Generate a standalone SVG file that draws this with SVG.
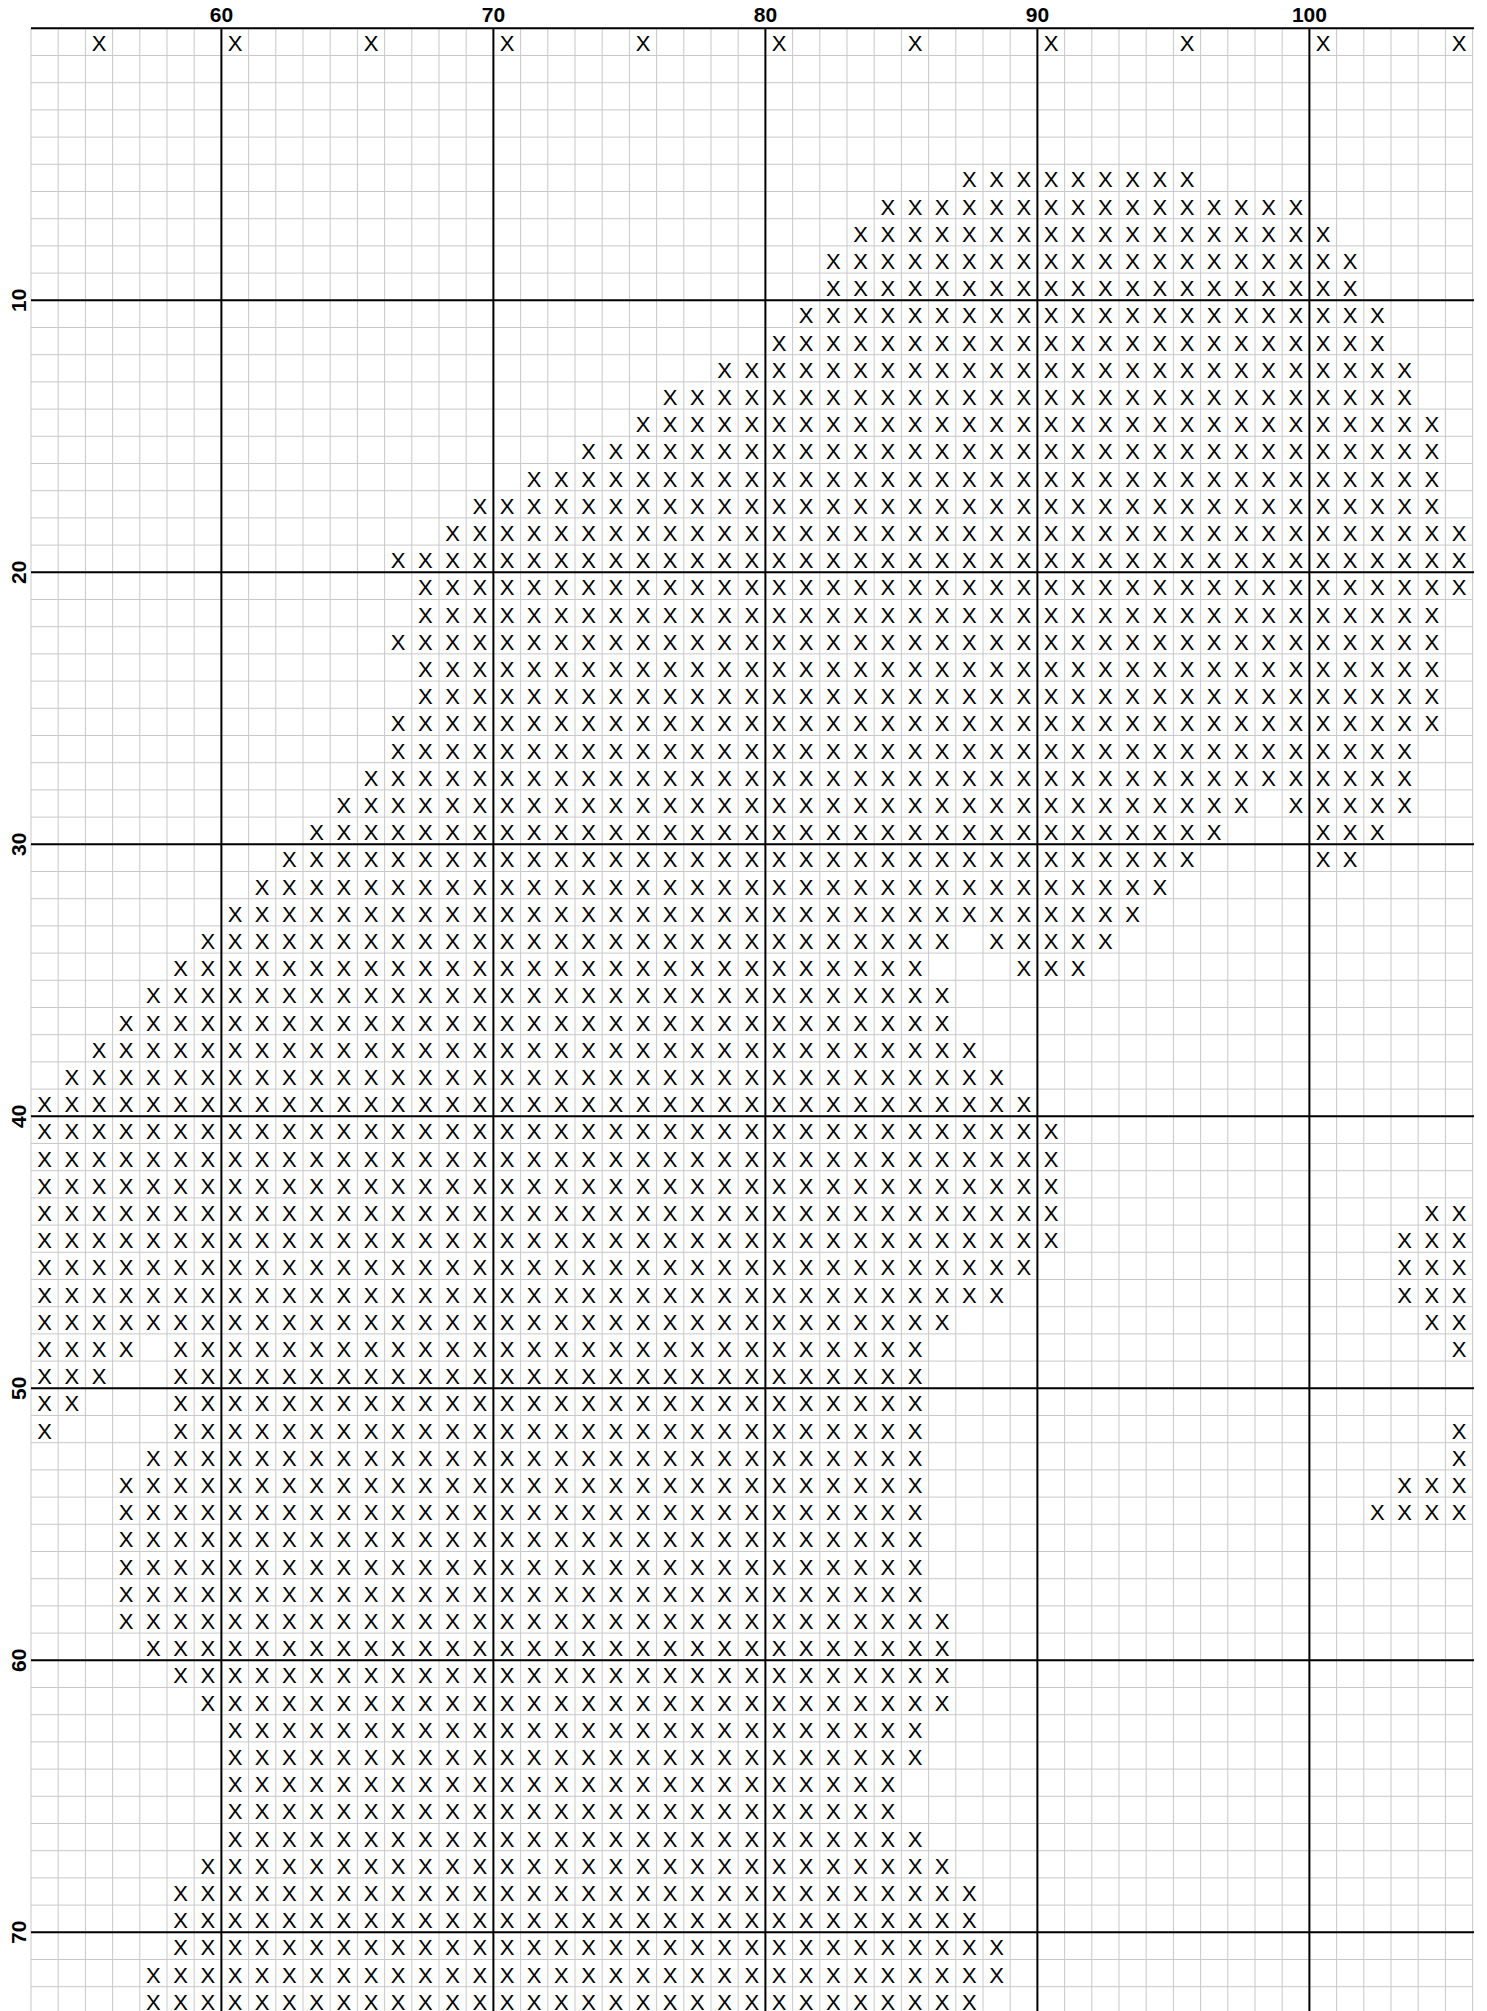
<svg xmlns="http://www.w3.org/2000/svg" width="1487" height="2011" viewBox="0 0 1487 2011">
<style>
.g{stroke:#c8c8c8;stroke-width:1;fill:none}
.t{stroke:#000;stroke-width:2;fill:none}
.lab{font-family:"Liberation Sans",Arial,sans-serif;font-weight:bold;font-size:21px;fill:#000;text-anchor:middle}
.x{font-family:"Liberation Sans",Arial,sans-serif;font-size:22px;fill:#000;text-anchor:middle}
</style>
<rect width="1487" height="2011" fill="#fff"/>
<g id="grid">
<path class="g" d="M31 28.3V2011M58.2 28.3V2011M85.4 28.3V2011M112.6 28.3V2011M139.8 28.3V2011M167 28.3V2011M194.2 28.3V2011M248.6 28.3V2011M275.8 28.3V2011M303 28.3V2011M330.2 28.3V2011M357.4 28.3V2011M384.6 28.3V2011M411.8 28.3V2011M439 28.3V2011M466.2 28.3V2011M520.6 28.3V2011M547.8 28.3V2011M575 28.3V2011M602.2 28.3V2011M629.4 28.3V2011M656.6 28.3V2011M683.8 28.3V2011M711 28.3V2011M738.2 28.3V2011M792.6 28.3V2011M819.8 28.3V2011M847 28.3V2011M874.2 28.3V2011M901.4 28.3V2011M928.6 28.3V2011M955.8 28.3V2011M983 28.3V2011M1010.2 28.3V2011M1064.6 28.3V2011M1091.8 28.3V2011M1119 28.3V2011M1146.2 28.3V2011M1173.4 28.3V2011M1200.6 28.3V2011M1227.8 28.3V2011M1255 28.3V2011M1282.2 28.3V2011M1336.6 28.3V2011M1363.8 28.3V2011M1391 28.3V2011M1418.2 28.3V2011M1445.4 28.3V2011M1472.6 28.3V2011"/>
<path class="g" d="M31 55.5H1472.6M31 82.7H1472.6M31 109.9H1472.6M31 137.1H1472.6M31 164.3H1472.6M31 191.5H1472.6M31 218.7H1472.6M31 245.9H1472.6M31 273.1H1472.6M31 327.5H1472.6M31 354.7H1472.6M31 381.9H1472.6M31 409.1H1472.6M31 436.3H1472.6M31 463.5H1472.6M31 490.7H1472.6M31 517.9H1472.6M31 545.1H1472.6M31 599.5H1472.6M31 626.7H1472.6M31 653.9H1472.6M31 681.1H1472.6M31 708.3H1472.6M31 735.5H1472.6M31 762.7H1472.6M31 789.9H1472.6M31 817.1H1472.6M31 871.5H1472.6M31 898.7H1472.6M31 925.9H1472.6M31 953.1H1472.6M31 980.3H1472.6M31 1007.5H1472.6M31 1034.7H1472.6M31 1061.9H1472.6M31 1089.1H1472.6M31 1143.5H1472.6M31 1170.7H1472.6M31 1197.9H1472.6M31 1225.1H1472.6M31 1252.3H1472.6M31 1279.5H1472.6M31 1306.7H1472.6M31 1333.9H1472.6M31 1361.1H1472.6M31 1415.5H1472.6M31 1442.7H1472.6M31 1469.9H1472.6M31 1497.1H1472.6M31 1524.3H1472.6M31 1551.5H1472.6M31 1578.7H1472.6M31 1605.9H1472.6M31 1633.1H1472.6M31 1687.5H1472.6M31 1714.7H1472.6M31 1741.9H1472.6M31 1769.1H1472.6M31 1796.3H1472.6M31 1823.5H1472.6M31 1850.7H1472.6M31 1877.9H1472.6M31 1905.1H1472.6M31 1959.5H1472.6M31 1986.7H1472.6"/>
<path class="t" d="M221.4 28.3V2011M493.4 28.3V2011M765.4 28.3V2011M1037.4 28.3V2011M1309.4 28.3V2011M31 28.3H1474M31 300.3H1474M31 572.3H1474M31 844.3H1474M31 1116.3H1474M31 1388.3H1474M31 1660.3H1474M31 1932.3H1474"/>
</g>
<g id="labels">
<text class="lab" x="221.4" y="22.3">60</text>
<text class="lab" x="493.4" y="22.3">70</text>
<text class="lab" x="765.4" y="22.3">80</text>
<text class="lab" x="1037.4" y="22.3">90</text>
<text class="lab" x="1309.4" y="22.3">100</text>
<text class="lab" transform="translate(25.5 300.3) rotate(-90)">10</text>
<text class="lab" transform="translate(25.5 572.3) rotate(-90)">20</text>
<text class="lab" transform="translate(25.5 844.3) rotate(-90)">30</text>
<text class="lab" transform="translate(25.5 1116.3) rotate(-90)">40</text>
<text class="lab" transform="translate(25.5 1388.3) rotate(-90)">50</text>
<text class="lab" transform="translate(25.5 1660.3) rotate(-90)">60</text>
<text class="lab" transform="translate(25.5 1932.3) rotate(-90)">70</text>
</g>
<g id="stitches">
<text class="x" y="51.3" x="99 235 371 507 643 779 915 1051 1187 1323 1459">XXXXXXXXXXX</text>
<text class="x" y="187.3" x="969.4 996.6 1023.8 1051 1078.2 1105.4 1132.6 1159.8 1187">XXXXXXXXX</text>
<text class="x" y="214.5" x="887.8 915 942.2 969.4 996.6 1023.8 1051 1078.2 1105.4 1132.6 1159.8 1187 1214.2 1241.4 1268.6 1295.8">XXXXXXXXXXXXXXXX</text>
<text class="x" y="241.7" x="860.6 887.8 915 942.2 969.4 996.6 1023.8 1051 1078.2 1105.4 1132.6 1159.8 1187 1214.2 1241.4 1268.6 1295.8 1323">XXXXXXXXXXXXXXXXXX</text>
<text class="x" y="268.9" x="833.4 860.6 887.8 915 942.2 969.4 996.6 1023.8 1051 1078.2 1105.4 1132.6 1159.8 1187 1214.2 1241.4 1268.6 1295.8 1323 1350.2">XXXXXXXXXXXXXXXXXXXX</text>
<text class="x" y="296.1" x="833.4 860.6 887.8 915 942.2 969.4 996.6 1023.8 1051 1078.2 1105.4 1132.6 1159.8 1187 1214.2 1241.4 1268.6 1295.8 1323 1350.2">XXXXXXXXXXXXXXXXXXXX</text>
<text class="x" y="323.3" x="806.2 833.4 860.6 887.8 915 942.2 969.4 996.6 1023.8 1051 1078.2 1105.4 1132.6 1159.8 1187 1214.2 1241.4 1268.6 1295.8 1323 1350.2 1377.4">XXXXXXXXXXXXXXXXXXXXXX</text>
<text class="x" y="350.5" x="779 806.2 833.4 860.6 887.8 915 942.2 969.4 996.6 1023.8 1051 1078.2 1105.4 1132.6 1159.8 1187 1214.2 1241.4 1268.6 1295.8 1323 1350.2 1377.4">XXXXXXXXXXXXXXXXXXXXXXX</text>
<text class="x" y="377.7" x="724.6 751.8 779 806.2 833.4 860.6 887.8 915 942.2 969.4 996.6 1023.8 1051 1078.2 1105.4 1132.6 1159.8 1187 1214.2 1241.4 1268.6 1295.8 1323 1350.2 1377.4 1404.6">XXXXXXXXXXXXXXXXXXXXXXXXXX</text>
<text class="x" y="404.9" x="670.2 697.4 724.6 751.8 779 806.2 833.4 860.6 887.8 915 942.2 969.4 996.6 1023.8 1051 1078.2 1105.4 1132.6 1159.8 1187 1214.2 1241.4 1268.6 1295.8 1323 1350.2 1377.4 1404.6">XXXXXXXXXXXXXXXXXXXXXXXXXXXX</text>
<text class="x" y="432.1" x="643 670.2 697.4 724.6 751.8 779 806.2 833.4 860.6 887.8 915 942.2 969.4 996.6 1023.8 1051 1078.2 1105.4 1132.6 1159.8 1187 1214.2 1241.4 1268.6 1295.8 1323 1350.2 1377.4 1404.6 1431.8">XXXXXXXXXXXXXXXXXXXXXXXXXXXXXX</text>
<text class="x" y="459.3" x="588.6 615.8 643 670.2 697.4 724.6 751.8 779 806.2 833.4 860.6 887.8 915 942.2 969.4 996.6 1023.8 1051 1078.2 1105.4 1132.6 1159.8 1187 1214.2 1241.4 1268.6 1295.8 1323 1350.2 1377.4 1404.6 1431.8">XXXXXXXXXXXXXXXXXXXXXXXXXXXXXXXX</text>
<text class="x" y="486.5" x="534.2 561.4 588.6 615.8 643 670.2 697.4 724.6 751.8 779 806.2 833.4 860.6 887.8 915 942.2 969.4 996.6 1023.8 1051 1078.2 1105.4 1132.6 1159.8 1187 1214.2 1241.4 1268.6 1295.8 1323 1350.2 1377.4 1404.6 1431.8">XXXXXXXXXXXXXXXXXXXXXXXXXXXXXXXXXX</text>
<text class="x" y="513.7" x="479.8 507 534.2 561.4 588.6 615.8 643 670.2 697.4 724.6 751.8 779 806.2 833.4 860.6 887.8 915 942.2 969.4 996.6 1023.8 1051 1078.2 1105.4 1132.6 1159.8 1187 1214.2 1241.4 1268.6 1295.8 1323 1350.2 1377.4 1404.6 1431.8">XXXXXXXXXXXXXXXXXXXXXXXXXXXXXXXXXXXX</text>
<text class="x" y="540.9" x="452.6 479.8 507 534.2 561.4 588.6 615.8 643 670.2 697.4 724.6 751.8 779 806.2 833.4 860.6 887.8 915 942.2 969.4 996.6 1023.8 1051 1078.2 1105.4 1132.6 1159.8 1187 1214.2 1241.4 1268.6 1295.8 1323 1350.2 1377.4 1404.6 1431.8 1459">XXXXXXXXXXXXXXXXXXXXXXXXXXXXXXXXXXXXXX</text>
<text class="x" y="568.1" x="398.2 425.4 452.6 479.8 507 534.2 561.4 588.6 615.8 643 670.2 697.4 724.6 751.8 779 806.2 833.4 860.6 887.8 915 942.2 969.4 996.6 1023.8 1051 1078.2 1105.4 1132.6 1159.8 1187 1214.2 1241.4 1268.6 1295.8 1323 1350.2 1377.4 1404.6 1431.8 1459">XXXXXXXXXXXXXXXXXXXXXXXXXXXXXXXXXXXXXXXX</text>
<text class="x" y="595.3" x="425.4 452.6 479.8 507 534.2 561.4 588.6 615.8 643 670.2 697.4 724.6 751.8 779 806.2 833.4 860.6 887.8 915 942.2 969.4 996.6 1023.8 1051 1078.2 1105.4 1132.6 1159.8 1187 1214.2 1241.4 1268.6 1295.8 1323 1350.2 1377.4 1404.6 1431.8 1459">XXXXXXXXXXXXXXXXXXXXXXXXXXXXXXXXXXXXXXX</text>
<text class="x" y="622.5" x="425.4 452.6 479.8 507 534.2 561.4 588.6 615.8 643 670.2 697.4 724.6 751.8 779 806.2 833.4 860.6 887.8 915 942.2 969.4 996.6 1023.8 1051 1078.2 1105.4 1132.6 1159.8 1187 1214.2 1241.4 1268.6 1295.8 1323 1350.2 1377.4 1404.6 1431.8">XXXXXXXXXXXXXXXXXXXXXXXXXXXXXXXXXXXXXX</text>
<text class="x" y="649.7" x="398.2 425.4 452.6 479.8 507 534.2 561.4 588.6 615.8 643 670.2 697.4 724.6 751.8 779 806.2 833.4 860.6 887.8 915 942.2 969.4 996.6 1023.8 1051 1078.2 1105.4 1132.6 1159.8 1187 1214.2 1241.4 1268.6 1295.8 1323 1350.2 1377.4 1404.6 1431.8">XXXXXXXXXXXXXXXXXXXXXXXXXXXXXXXXXXXXXXX</text>
<text class="x" y="676.9" x="425.4 452.6 479.8 507 534.2 561.4 588.6 615.8 643 670.2 697.4 724.6 751.8 779 806.2 833.4 860.6 887.8 915 942.2 969.4 996.6 1023.8 1051 1078.2 1105.4 1132.6 1159.8 1187 1214.2 1241.4 1268.6 1295.8 1323 1350.2 1377.4 1404.6 1431.8">XXXXXXXXXXXXXXXXXXXXXXXXXXXXXXXXXXXXXX</text>
<text class="x" y="704.1" x="425.4 452.6 479.8 507 534.2 561.4 588.6 615.8 643 670.2 697.4 724.6 751.8 779 806.2 833.4 860.6 887.8 915 942.2 969.4 996.6 1023.8 1051 1078.2 1105.4 1132.6 1159.8 1187 1214.2 1241.4 1268.6 1295.8 1323 1350.2 1377.4 1404.6 1431.8">XXXXXXXXXXXXXXXXXXXXXXXXXXXXXXXXXXXXXX</text>
<text class="x" y="731.3" x="398.2 425.4 452.6 479.8 507 534.2 561.4 588.6 615.8 643 670.2 697.4 724.6 751.8 779 806.2 833.4 860.6 887.8 915 942.2 969.4 996.6 1023.8 1051 1078.2 1105.4 1132.6 1159.8 1187 1214.2 1241.4 1268.6 1295.8 1323 1350.2 1377.4 1404.6 1431.8">XXXXXXXXXXXXXXXXXXXXXXXXXXXXXXXXXXXXXXX</text>
<text class="x" y="758.5" x="398.2 425.4 452.6 479.8 507 534.2 561.4 588.6 615.8 643 670.2 697.4 724.6 751.8 779 806.2 833.4 860.6 887.8 915 942.2 969.4 996.6 1023.8 1051 1078.2 1105.4 1132.6 1159.8 1187 1214.2 1241.4 1268.6 1295.8 1323 1350.2 1377.4 1404.6">XXXXXXXXXXXXXXXXXXXXXXXXXXXXXXXXXXXXXX</text>
<text class="x" y="785.7" x="371 398.2 425.4 452.6 479.8 507 534.2 561.4 588.6 615.8 643 670.2 697.4 724.6 751.8 779 806.2 833.4 860.6 887.8 915 942.2 969.4 996.6 1023.8 1051 1078.2 1105.4 1132.6 1159.8 1187 1214.2 1241.4 1268.6 1295.8 1323 1350.2 1377.4 1404.6">XXXXXXXXXXXXXXXXXXXXXXXXXXXXXXXXXXXXXXX</text>
<text class="x" y="812.9" x="343.8 371 398.2 425.4 452.6 479.8 507 534.2 561.4 588.6 615.8 643 670.2 697.4 724.6 751.8 779 806.2 833.4 860.6 887.8 915 942.2 969.4 996.6 1023.8 1051 1078.2 1105.4 1132.6 1159.8 1187 1214.2 1241.4">XXXXXXXXXXXXXXXXXXXXXXXXXXXXXXXXXX</text>
<text class="x" y="812.9" x="1295.8 1323 1350.2 1377.4 1404.6">XXXXX</text>
<text class="x" y="840.1" x="316.6 343.8 371 398.2 425.4 452.6 479.8 507 534.2 561.4 588.6 615.8 643 670.2 697.4 724.6 751.8 779 806.2 833.4 860.6 887.8 915 942.2 969.4 996.6 1023.8 1051 1078.2 1105.4 1132.6 1159.8 1187 1214.2">XXXXXXXXXXXXXXXXXXXXXXXXXXXXXXXXXX</text>
<text class="x" y="840.1" x="1323 1350.2 1377.4">XXX</text>
<text class="x" y="867.3" x="289.4 316.6 343.8 371 398.2 425.4 452.6 479.8 507 534.2 561.4 588.6 615.8 643 670.2 697.4 724.6 751.8 779 806.2 833.4 860.6 887.8 915 942.2 969.4 996.6 1023.8 1051 1078.2 1105.4 1132.6 1159.8 1187">XXXXXXXXXXXXXXXXXXXXXXXXXXXXXXXXXX</text>
<text class="x" y="867.3" x="1323 1350.2">XX</text>
<text class="x" y="894.5" x="262.2 289.4 316.6 343.8 371 398.2 425.4 452.6 479.8 507 534.2 561.4 588.6 615.8 643 670.2 697.4 724.6 751.8 779 806.2 833.4 860.6 887.8 915 942.2 969.4 996.6 1023.8 1051 1078.2 1105.4 1132.6 1159.8">XXXXXXXXXXXXXXXXXXXXXXXXXXXXXXXXXX</text>
<text class="x" y="921.7" x="235 262.2 289.4 316.6 343.8 371 398.2 425.4 452.6 479.8 507 534.2 561.4 588.6 615.8 643 670.2 697.4 724.6 751.8 779 806.2 833.4 860.6 887.8 915 942.2 969.4 996.6 1023.8 1051 1078.2 1105.4 1132.6">XXXXXXXXXXXXXXXXXXXXXXXXXXXXXXXXXX</text>
<text class="x" y="948.9" x="207.8 235 262.2 289.4 316.6 343.8 371 398.2 425.4 452.6 479.8 507 534.2 561.4 588.6 615.8 643 670.2 697.4 724.6 751.8 779 806.2 833.4 860.6 887.8 915 942.2">XXXXXXXXXXXXXXXXXXXXXXXXXXXX</text>
<text class="x" y="948.9" x="996.6 1023.8 1051 1078.2 1105.4">XXXXX</text>
<text class="x" y="976.1" x="180.6 207.8 235 262.2 289.4 316.6 343.8 371 398.2 425.4 452.6 479.8 507 534.2 561.4 588.6 615.8 643 670.2 697.4 724.6 751.8 779 806.2 833.4 860.6 887.8 915">XXXXXXXXXXXXXXXXXXXXXXXXXXXX</text>
<text class="x" y="976.1" x="1023.8 1051 1078.2">XXX</text>
<text class="x" y="1003.3" x="153.4 180.6 207.8 235 262.2 289.4 316.6 343.8 371 398.2 425.4 452.6 479.8 507 534.2 561.4 588.6 615.8 643 670.2 697.4 724.6 751.8 779 806.2 833.4 860.6 887.8 915 942.2">XXXXXXXXXXXXXXXXXXXXXXXXXXXXXX</text>
<text class="x" y="1030.5" x="126.2 153.4 180.6 207.8 235 262.2 289.4 316.6 343.8 371 398.2 425.4 452.6 479.8 507 534.2 561.4 588.6 615.8 643 670.2 697.4 724.6 751.8 779 806.2 833.4 860.6 887.8 915 942.2">XXXXXXXXXXXXXXXXXXXXXXXXXXXXXXX</text>
<text class="x" y="1057.7" x="99 126.2 153.4 180.6 207.8 235 262.2 289.4 316.6 343.8 371 398.2 425.4 452.6 479.8 507 534.2 561.4 588.6 615.8 643 670.2 697.4 724.6 751.8 779 806.2 833.4 860.6 887.8 915 942.2 969.4">XXXXXXXXXXXXXXXXXXXXXXXXXXXXXXXXX</text>
<text class="x" y="1084.9" x="71.8 99 126.2 153.4 180.6 207.8 235 262.2 289.4 316.6 343.8 371 398.2 425.4 452.6 479.8 507 534.2 561.4 588.6 615.8 643 670.2 697.4 724.6 751.8 779 806.2 833.4 860.6 887.8 915 942.2 969.4 996.6">XXXXXXXXXXXXXXXXXXXXXXXXXXXXXXXXXXX</text>
<text class="x" y="1112.1" x="44.6 71.8 99 126.2 153.4 180.6 207.8 235 262.2 289.4 316.6 343.8 371 398.2 425.4 452.6 479.8 507 534.2 561.4 588.6 615.8 643 670.2 697.4 724.6 751.8 779 806.2 833.4 860.6 887.8 915 942.2 969.4 996.6 1023.8">XXXXXXXXXXXXXXXXXXXXXXXXXXXXXXXXXXXXX</text>
<text class="x" y="1139.3" x="44.6 71.8 99 126.2 153.4 180.6 207.8 235 262.2 289.4 316.6 343.8 371 398.2 425.4 452.6 479.8 507 534.2 561.4 588.6 615.8 643 670.2 697.4 724.6 751.8 779 806.2 833.4 860.6 887.8 915 942.2 969.4 996.6 1023.8 1051">XXXXXXXXXXXXXXXXXXXXXXXXXXXXXXXXXXXXXX</text>
<text class="x" y="1166.5" x="44.6 71.8 99 126.2 153.4 180.6 207.8 235 262.2 289.4 316.6 343.8 371 398.2 425.4 452.6 479.8 507 534.2 561.4 588.6 615.8 643 670.2 697.4 724.6 751.8 779 806.2 833.4 860.6 887.8 915 942.2 969.4 996.6 1023.8 1051">XXXXXXXXXXXXXXXXXXXXXXXXXXXXXXXXXXXXXX</text>
<text class="x" y="1193.7" x="44.6 71.8 99 126.2 153.4 180.6 207.8 235 262.2 289.4 316.6 343.8 371 398.2 425.4 452.6 479.8 507 534.2 561.4 588.6 615.8 643 670.2 697.4 724.6 751.8 779 806.2 833.4 860.6 887.8 915 942.2 969.4 996.6 1023.8 1051">XXXXXXXXXXXXXXXXXXXXXXXXXXXXXXXXXXXXXX</text>
<text class="x" y="1220.9" x="44.6 71.8 99 126.2 153.4 180.6 207.8 235 262.2 289.4 316.6 343.8 371 398.2 425.4 452.6 479.8 507 534.2 561.4 588.6 615.8 643 670.2 697.4 724.6 751.8 779 806.2 833.4 860.6 887.8 915 942.2 969.4 996.6 1023.8 1051">XXXXXXXXXXXXXXXXXXXXXXXXXXXXXXXXXXXXXX</text>
<text class="x" y="1220.9" x="1431.8 1459">XX</text>
<text class="x" y="1248.1" x="44.6 71.8 99 126.2 153.4 180.6 207.8 235 262.2 289.4 316.6 343.8 371 398.2 425.4 452.6 479.8 507 534.2 561.4 588.6 615.8 643 670.2 697.4 724.6 751.8 779 806.2 833.4 860.6 887.8 915 942.2 969.4 996.6 1023.8 1051">XXXXXXXXXXXXXXXXXXXXXXXXXXXXXXXXXXXXXX</text>
<text class="x" y="1248.1" x="1404.6 1431.8 1459">XXX</text>
<text class="x" y="1275.3" x="44.6 71.8 99 126.2 153.4 180.6 207.8 235 262.2 289.4 316.6 343.8 371 398.2 425.4 452.6 479.8 507 534.2 561.4 588.6 615.8 643 670.2 697.4 724.6 751.8 779 806.2 833.4 860.6 887.8 915 942.2 969.4 996.6 1023.8">XXXXXXXXXXXXXXXXXXXXXXXXXXXXXXXXXXXXX</text>
<text class="x" y="1275.3" x="1404.6 1431.8 1459">XXX</text>
<text class="x" y="1302.5" x="44.6 71.8 99 126.2 153.4 180.6 207.8 235 262.2 289.4 316.6 343.8 371 398.2 425.4 452.6 479.8 507 534.2 561.4 588.6 615.8 643 670.2 697.4 724.6 751.8 779 806.2 833.4 860.6 887.8 915 942.2 969.4 996.6">XXXXXXXXXXXXXXXXXXXXXXXXXXXXXXXXXXXX</text>
<text class="x" y="1302.5" x="1404.6 1431.8 1459">XXX</text>
<text class="x" y="1329.7" x="44.6 71.8 99 126.2 153.4 180.6 207.8 235 262.2 289.4 316.6 343.8 371 398.2 425.4 452.6 479.8 507 534.2 561.4 588.6 615.8 643 670.2 697.4 724.6 751.8 779 806.2 833.4 860.6 887.8 915 942.2">XXXXXXXXXXXXXXXXXXXXXXXXXXXXXXXXXX</text>
<text class="x" y="1329.7" x="1431.8 1459">XX</text>
<text class="x" y="1356.9" x="44.6 71.8 99 126.2">XXXX</text>
<text class="x" y="1356.9" x="180.6 207.8 235 262.2 289.4 316.6 343.8 371 398.2 425.4 452.6 479.8 507 534.2 561.4 588.6 615.8 643 670.2 697.4 724.6 751.8 779 806.2 833.4 860.6 887.8 915">XXXXXXXXXXXXXXXXXXXXXXXXXXXX</text>
<text class="x" y="1356.9" x="1459">X</text>
<text class="x" y="1384.1" x="44.6 71.8 99">XXX</text>
<text class="x" y="1384.1" x="180.6 207.8 235 262.2 289.4 316.6 343.8 371 398.2 425.4 452.6 479.8 507 534.2 561.4 588.6 615.8 643 670.2 697.4 724.6 751.8 779 806.2 833.4 860.6 887.8 915">XXXXXXXXXXXXXXXXXXXXXXXXXXXX</text>
<text class="x" y="1411.3" x="44.6 71.8">XX</text>
<text class="x" y="1411.3" x="180.6 207.8 235 262.2 289.4 316.6 343.8 371 398.2 425.4 452.6 479.8 507 534.2 561.4 588.6 615.8 643 670.2 697.4 724.6 751.8 779 806.2 833.4 860.6 887.8 915">XXXXXXXXXXXXXXXXXXXXXXXXXXXX</text>
<text class="x" y="1438.5" x="44.6">X</text>
<text class="x" y="1438.5" x="180.6 207.8 235 262.2 289.4 316.6 343.8 371 398.2 425.4 452.6 479.8 507 534.2 561.4 588.6 615.8 643 670.2 697.4 724.6 751.8 779 806.2 833.4 860.6 887.8 915">XXXXXXXXXXXXXXXXXXXXXXXXXXXX</text>
<text class="x" y="1438.5" x="1459">X</text>
<text class="x" y="1465.7" x="153.4 180.6 207.8 235 262.2 289.4 316.6 343.8 371 398.2 425.4 452.6 479.8 507 534.2 561.4 588.6 615.8 643 670.2 697.4 724.6 751.8 779 806.2 833.4 860.6 887.8 915">XXXXXXXXXXXXXXXXXXXXXXXXXXXXX</text>
<text class="x" y="1465.7" x="1459">X</text>
<text class="x" y="1492.9" x="126.2 153.4 180.6 207.8 235 262.2 289.4 316.6 343.8 371 398.2 425.4 452.6 479.8 507 534.2 561.4 588.6 615.8 643 670.2 697.4 724.6 751.8 779 806.2 833.4 860.6 887.8 915">XXXXXXXXXXXXXXXXXXXXXXXXXXXXXX</text>
<text class="x" y="1492.9" x="1404.6 1431.8 1459">XXX</text>
<text class="x" y="1520.1" x="126.2 153.4 180.6 207.8 235 262.2 289.4 316.6 343.8 371 398.2 425.4 452.6 479.8 507 534.2 561.4 588.6 615.8 643 670.2 697.4 724.6 751.8 779 806.2 833.4 860.6 887.8 915">XXXXXXXXXXXXXXXXXXXXXXXXXXXXXX</text>
<text class="x" y="1520.1" x="1377.4 1404.6 1431.8 1459">XXXX</text>
<text class="x" y="1547.3" x="126.2 153.4 180.6 207.8 235 262.2 289.4 316.6 343.8 371 398.2 425.4 452.6 479.8 507 534.2 561.4 588.6 615.8 643 670.2 697.4 724.6 751.8 779 806.2 833.4 860.6 887.8 915">XXXXXXXXXXXXXXXXXXXXXXXXXXXXXX</text>
<text class="x" y="1574.5" x="126.2 153.4 180.6 207.8 235 262.2 289.4 316.6 343.8 371 398.2 425.4 452.6 479.8 507 534.2 561.4 588.6 615.8 643 670.2 697.4 724.6 751.8 779 806.2 833.4 860.6 887.8 915">XXXXXXXXXXXXXXXXXXXXXXXXXXXXXX</text>
<text class="x" y="1601.7" x="126.2 153.4 180.6 207.8 235 262.2 289.4 316.6 343.8 371 398.2 425.4 452.6 479.8 507 534.2 561.4 588.6 615.8 643 670.2 697.4 724.6 751.8 779 806.2 833.4 860.6 887.8 915">XXXXXXXXXXXXXXXXXXXXXXXXXXXXXX</text>
<text class="x" y="1628.9" x="126.2 153.4 180.6 207.8 235 262.2 289.4 316.6 343.8 371 398.2 425.4 452.6 479.8 507 534.2 561.4 588.6 615.8 643 670.2 697.4 724.6 751.8 779 806.2 833.4 860.6 887.8 915 942.2">XXXXXXXXXXXXXXXXXXXXXXXXXXXXXXX</text>
<text class="x" y="1656.1" x="153.4 180.6 207.8 235 262.2 289.4 316.6 343.8 371 398.2 425.4 452.6 479.8 507 534.2 561.4 588.6 615.8 643 670.2 697.4 724.6 751.8 779 806.2 833.4 860.6 887.8 915 942.2">XXXXXXXXXXXXXXXXXXXXXXXXXXXXXX</text>
<text class="x" y="1683.3" x="180.6 207.8 235 262.2 289.4 316.6 343.8 371 398.2 425.4 452.6 479.8 507 534.2 561.4 588.6 615.8 643 670.2 697.4 724.6 751.8 779 806.2 833.4 860.6 887.8 915 942.2">XXXXXXXXXXXXXXXXXXXXXXXXXXXXX</text>
<text class="x" y="1710.5" x="207.8 235 262.2 289.4 316.6 343.8 371 398.2 425.4 452.6 479.8 507 534.2 561.4 588.6 615.8 643 670.2 697.4 724.6 751.8 779 806.2 833.4 860.6 887.8 915 942.2">XXXXXXXXXXXXXXXXXXXXXXXXXXXX</text>
<text class="x" y="1737.7" x="235 262.2 289.4 316.6 343.8 371 398.2 425.4 452.6 479.8 507 534.2 561.4 588.6 615.8 643 670.2 697.4 724.6 751.8 779 806.2 833.4 860.6 887.8 915">XXXXXXXXXXXXXXXXXXXXXXXXXX</text>
<text class="x" y="1764.9" x="235 262.2 289.4 316.6 343.8 371 398.2 425.4 452.6 479.8 507 534.2 561.4 588.6 615.8 643 670.2 697.4 724.6 751.8 779 806.2 833.4 860.6 887.8 915">XXXXXXXXXXXXXXXXXXXXXXXXXX</text>
<text class="x" y="1792.1" x="235 262.2 289.4 316.6 343.8 371 398.2 425.4 452.6 479.8 507 534.2 561.4 588.6 615.8 643 670.2 697.4 724.6 751.8 779 806.2 833.4 860.6 887.8">XXXXXXXXXXXXXXXXXXXXXXXXX</text>
<text class="x" y="1819.3" x="235 262.2 289.4 316.6 343.8 371 398.2 425.4 452.6 479.8 507 534.2 561.4 588.6 615.8 643 670.2 697.4 724.6 751.8 779 806.2 833.4 860.6 887.8">XXXXXXXXXXXXXXXXXXXXXXXXX</text>
<text class="x" y="1846.5" x="235 262.2 289.4 316.6 343.8 371 398.2 425.4 452.6 479.8 507 534.2 561.4 588.6 615.8 643 670.2 697.4 724.6 751.8 779 806.2 833.4 860.6 887.8 915">XXXXXXXXXXXXXXXXXXXXXXXXXX</text>
<text class="x" y="1873.7" x="207.8 235 262.2 289.4 316.6 343.8 371 398.2 425.4 452.6 479.8 507 534.2 561.4 588.6 615.8 643 670.2 697.4 724.6 751.8 779 806.2 833.4 860.6 887.8 915 942.2">XXXXXXXXXXXXXXXXXXXXXXXXXXXX</text>
<text class="x" y="1900.9" x="180.6 207.8 235 262.2 289.4 316.6 343.8 371 398.2 425.4 452.6 479.8 507 534.2 561.4 588.6 615.8 643 670.2 697.4 724.6 751.8 779 806.2 833.4 860.6 887.8 915 942.2 969.4">XXXXXXXXXXXXXXXXXXXXXXXXXXXXXX</text>
<text class="x" y="1928.1" x="180.6 207.8 235 262.2 289.4 316.6 343.8 371 398.2 425.4 452.6 479.8 507 534.2 561.4 588.6 615.8 643 670.2 697.4 724.6 751.8 779 806.2 833.4 860.6 887.8 915 942.2 969.4">XXXXXXXXXXXXXXXXXXXXXXXXXXXXXX</text>
<text class="x" y="1955.3" x="180.6 207.8 235 262.2 289.4 316.6 343.8 371 398.2 425.4 452.6 479.8 507 534.2 561.4 588.6 615.8 643 670.2 697.4 724.6 751.8 779 806.2 833.4 860.6 887.8 915 942.2 969.4 996.6">XXXXXXXXXXXXXXXXXXXXXXXXXXXXXXX</text>
<text class="x" y="1982.5" x="153.4 180.6 207.8 235 262.2 289.4 316.6 343.8 371 398.2 425.4 452.6 479.8 507 534.2 561.4 588.6 615.8 643 670.2 697.4 724.6 751.8 779 806.2 833.4 860.6 887.8 915 942.2 969.4 996.6">XXXXXXXXXXXXXXXXXXXXXXXXXXXXXXXX</text>
<text class="x" y="2009.7" x="153.4 180.6 207.8 235 262.2 289.4 316.6 343.8 371 398.2 425.4 452.6 479.8 507 534.2 561.4 588.6 615.8 643 670.2 697.4 724.6 751.8 779 806.2 833.4 860.6 887.8 915 942.2 969.4">XXXXXXXXXXXXXXXXXXXXXXXXXXXXXXX</text>
</g>
</svg>
